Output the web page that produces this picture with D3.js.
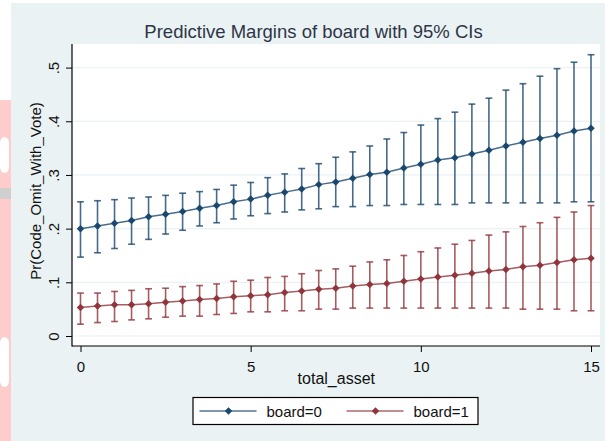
<!DOCTYPE html>
<meta charset="utf-8">
<style>
body { margin: 0; background: #fff; }
svg text { font-family: "Liberation Sans", Arial, sans-serif; }
.axis path { display: none; }
.axis line { stroke: #000; }
</style>
<body>
<svg width="605" height="441"></svg>
<script src="https://cdn.jsdelivr.net/npm/d3@7"></script>
<script>

var totalAsset = [0, 0.5, 1, 1.5, 2, 2.5, 3, 3.5, 4, 4.5, 5, 5.5, 6, 6.5, 7, 7.5,
                  8, 8.5, 9, 9.5, 10, 10.5, 11, 11.5, 12, 12.5, 13, 13.5, 14, 14.5, 15];

var board0 = [0.200, 0.205, 0.210, 0.215, 0.222, 0.227, 0.232, 0.238, 0.243, 0.250, 0.255,
              0.262, 0.268, 0.274, 0.282, 0.287, 0.294, 0.301, 0.305, 0.313, 0.320, 0.328,
              0.332, 0.339, 0.346, 0.354, 0.361, 0.368, 0.374, 0.382, 0.387];
var board0Hi = [0.250, 0.252, 0.254, 0.257, 0.259, 0.262, 0.266, 0.269, 0.273, 0.281, 0.286,
                0.295, 0.302, 0.312, 0.321, 0.333, 0.343, 0.354, 0.367, 0.379, 0.393, 0.405,
                0.417, 0.432, 0.443, 0.458, 0.470, 0.484, 0.498, 0.510, 0.524];
var board0Lo = [0.147, 0.155, 0.163, 0.171, 0.180, 0.190, 0.197, 0.205, 0.211, 0.218, 0.224,
                0.228, 0.231, 0.235, 0.237, 0.241, 0.241, 0.243, 0.243, 0.245, 0.245, 0.245,
                0.245, 0.248, 0.248, 0.248, 0.248, 0.248, 0.248, 0.250, 0.250];

var board1 = [0.053, 0.056, 0.058, 0.058, 0.060, 0.063, 0.065, 0.068, 0.070, 0.073, 0.075,
              0.077, 0.081, 0.084, 0.087, 0.089, 0.093, 0.096, 0.098, 0.102, 0.106, 0.110,
              0.113, 0.117, 0.121, 0.124, 0.129, 0.132, 0.137, 0.142, 0.145];
var board1Hi = [0.080, 0.080, 0.083, 0.085, 0.088, 0.089, 0.092, 0.094, 0.097, 0.102, 0.104,
                0.109, 0.111, 0.116, 0.122, 0.125, 0.130, 0.138, 0.142, 0.150, 0.157, 0.164,
                0.171, 0.178, 0.188, 0.194, 0.204, 0.211, 0.221, 0.231, 0.243];
var board1Lo = [0.022, 0.025, 0.027, 0.030, 0.032, 0.035, 0.037, 0.037, 0.040, 0.042, 0.045,
                0.045, 0.047, 0.047, 0.050, 0.050, 0.052, 0.052, 0.052, 0.052, 0.052, 0.052,
                0.052, 0.052, 0.052, 0.052, 0.050, 0.050, 0.050, 0.047, 0.047];

var xTicks = [0, 5, 10, 15];
var yTicks = [0, 0.1, 0.2, 0.3, 0.4, 0.5];
var yTickLabels = ["0", ".1", ".2", ".3", ".4", ".5"];

var seriesNames = ["board=0", "board=1"];
var seriesColors = ["#1a476f", "#90353b"];

var svg = d3.select("svg");

// page behind the graph (left strip)
svg.append("rect").attr("x", 0).attr("y", 100).attr("width", 11).attr("height", 341).attr("fill", "#ffcccc");
svg.append("rect").attr("x", 0).attr("y", 137).attr("width", 9).attr("height", 36).attr("rx", 6).attr("fill", "#fff");
svg.append("rect").attr("x", 0).attr("y", 188).attr("width", 11).attr("height", 11).attr("fill", "#cfcfcf");
svg.append("rect").attr("x", 0).attr("y", 337).attr("width", 9).attr("height", 50).attr("rx", 6).attr("fill", "#fff");

// graph background
svg.append("rect").attr("x", 11).attr("y", 3).attr("width", 594).attr("height", 438).attr("fill", "#eaf2f3");

var plot = {left: 72, right: 600, top: 44, bottom: 346};
svg.append("rect")
    .attr("x", plot.left).attr("y", plot.top)
    .attr("width", plot.right - plot.left).attr("height", plot.bottom - plot.top)
    .attr("fill", "#fff");

var x = d3.scaleLinear().domain([0, 15]).range([80.5, 591]);
var y = d3.scaleLinear().domain([0, 0.5]).range([336, 67.6]);

// gridlines
svg.selectAll(".grid")
  .data(yTicks)
  .enter().append("line")
    .attr("x1", plot.left + 1).attr("x2", plot.right)
    .attr("y1", function(d) { return y(d); })
    .attr("y2", function(d) { return y(d); })
    .attr("stroke", "#eaf2f3")
    .attr("stroke-width", 1.2);

// axes
var yAxis = svg.append("g")
    .attr("class", "axis")
    .attr("transform", "translate(" + plot.left + ",0)")
    .call(d3.axisLeft(y).tickValues(yTicks).tickSize(6)
      .tickFormat(function(d, i) { return yTickLabels[i]; }));

yAxis.selectAll("text")
    .attr("x", null).attr("dy", null)
    .attr("transform", "translate(-13.5,0) rotate(-90)")
    .attr("text-anchor", "middle")
    .style("font-size", "15px")
    .style("fill", "#111");

var xAxis = svg.append("g")
    .attr("class", "axis")
    .attr("transform", "translate(0," + plot.bottom + ")")
    .call(d3.axisBottom(x).tickValues(xTicks).tickSize(6));

xAxis.selectAll("text")
    .attr("y", 25.5).attr("dy", null)
    .style("font-size", "15px")
    .style("fill", "#111");

svg.append("line")
    .attr("x1", plot.left).attr("x2", plot.left)
    .attr("y1", plot.top).attr("y2", plot.bottom + 0.5)
    .attr("stroke", "#000").attr("stroke-width", 1.2);
svg.append("line")
    .attr("x1", plot.left).attr("x2", plot.right)
    .attr("y1", plot.bottom).attr("y2", plot.bottom)
    .attr("stroke", "#000").attr("stroke-width", 1.2);

// titles
svg.append("text")
    .attr("x", 313.5).attr("y", 37.5)
    .attr("text-anchor", "middle")
    .style("font-size", "18.5px")
    .style("fill", "#2e3548")
    .text("Predictive Margins of board with 95% CIs");

svg.append("text")
    .attr("x", 336.3).attr("y", 384)
    .attr("text-anchor", "middle")
    .style("font-size", "16px")
    .style("fill", "#111")
    .text("total_asset");

svg.append("text")
    .attr("transform", "translate(40.7,191) rotate(-90)")
    .attr("text-anchor", "middle")
    .style("font-size", "15px")
    .style("fill", "#111")
    .text("Pr(Code_Omit_With_Vote)");

// series
var diamond = d3.symbol().type(d3.symbolSquare).size(28);

var series = [
  {mid: board0, hi: board0Hi, lo: board0Lo},
  {mid: board1, hi: board1Hi, lo: board1Lo}
];

series.forEach(function(s, k) {
  var col = seriesColors[k];
  var g = svg.append("g");
  var pts = totalAsset.map(function(t, i) { return {x: t, m: s.mid[i], hi: s.hi[i], lo: s.lo[i]}; });

  g.selectAll(".ci")
    .data(pts)
    .enter().append("line")
      .attr("x1", function(d) { return x(d.x); })
      .attr("x2", function(d) { return x(d.x); })
      .attr("y1", function(d) { return y(d.lo); })
      .attr("y2", function(d) { return y(d.hi); })
      .attr("stroke", col).attr("stroke-width", 1.6).attr("opacity", 0.8);

  [["hi"], ["lo"]].forEach(function(key) {
    g.selectAll(".cap" + key)
      .data(pts)
      .enter().append("line")
        .attr("x1", function(d) { return x(d.x) - 3.4; })
        .attr("x2", function(d) { return x(d.x) + 3.4; })
        .attr("y1", function(d) { return y(d[key]); })
        .attr("y2", function(d) { return y(d[key]); })
        .attr("stroke", col).attr("stroke-width", 1.6).attr("opacity", 0.8);
  });

  g.append("path")
    .datum(pts)
    .attr("fill", "none")
    .attr("stroke", col).attr("stroke-width", 1.5).attr("opacity", 0.8)
    .attr("d", d3.line().x(function(d) { return x(d.x); }).y(function(d) { return y(d.m); }));

  g.selectAll(".pt")
    .data(pts)
    .enter().append("path")
      .attr("d", diamond)
      .attr("transform", function(d) { return "translate(" + x(d.x) + "," + y(d.m) + ") rotate(45)"; })
      .attr("fill", col);
});

// legend
var legend = svg.append("g");
legend.append("rect")
    .attr("x", 193).attr("y", 397.5).attr("width", 285).attr("height", 27)
    .attr("fill", "#fff").attr("stroke", "#000").attr("stroke-width", 1.2);

var legendX = [199.5, 346.5];
seriesNames.forEach(function(name, k) {
  var lx = legendX[k];
  legend.append("line")
    .attr("x1", lx).attr("x2", lx + 57).attr("y1", 411).attr("y2", 411)
    .attr("stroke", seriesColors[k]).attr("stroke-width", 1.5).attr("opacity", 0.75);
  legend.append("path")
    .attr("d", diamond)
    .attr("transform", "translate(" + (lx + 29) + ",411) rotate(45)")
    .attr("fill", seriesColors[k]);
  legend.append("text")
    .attr("x", lx + 67).attr("y", 416.5)
    .style("font-size", "15px")
    .style("fill", "#111")
    .text(name);
});

</script>
</body>
